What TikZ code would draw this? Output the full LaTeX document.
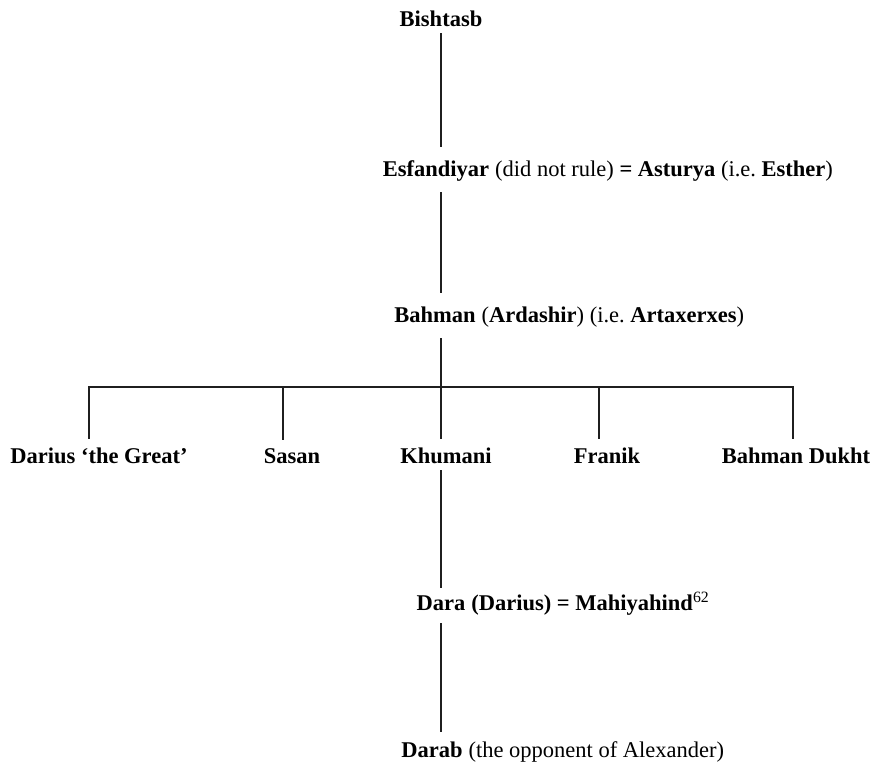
\documentclass[tikz,border=0pt]{standalone}
\usepackage{fontspec}
\setmainfont{Liberation Serif}
\usetikzlibrary{positioning}
\frenchspacing

\begin{document}
\begin{tikzpicture}[x=1pt, y=-1pt,
    every node/.style={font=\fontsize{22.5}{27}\selectfont},
    person/.style={anchor=base, inner sep=0pt, font=\fontsize{22.5}{27}\selectfont\bfseries},
    rest/.style={anchor=base west, inner sep=0pt},
    line/.style={line width=2.7pt, black!88}]

    \useasboundingbox (0,0) rectangle (879,762);
    \coordinate (trunk) at (441,0);

    % Main line of descent
    \node[person] (bish) at (441,27) {Bishtasb};
    \node[person] (esf) at (436,177) {Esfandiyar};
    \node[rest] (esf-r) at (esf.base east) {\ (did not rule) \textbf{= Asturya} (i.e. \textbf{Esther})};
    \node[person] (bah) at (435,323) {Bahman};
    \node[rest] (bah-r) at (bah.base east) {\ (\textbf{Ardashir}) (i.e. \textbf{Artaxerxes})};

    % Children of Bahman
    \node[person] (darius) at (99,463) {Darius `the Great'};
    \node[person] (sasan) at (292,463) {Sasan};
    \node[person] (khum) at (446,463) {Khumani};
    \node[person] (franik) at (607,463) {Franik};
    \node[person] (bdukht) at (796,463) {Bahman Dukht};

    % Later generations
    \node[person] (dara) at (441,610) {Dara};
    \node[rest] (dara-r) at (dara.base east) {\ \textbf{(Darius) = Mahiyahind}\textsuperscript{62}};
    \node[person] (darab) at (432,757) {Darab};
    \node[rest] (darab-r) at (darab.base east) {\ (the opponent of Alexander)};

    % Connections
    \draw[line, shorten <=6pt, shorten >=14pt] (bish.south -| trunk) -- (esf.north -| trunk);
    \draw[line, shorten <=10pt, shorten >=14pt] (esf.south -| trunk) -- (bah.north -| trunk);
    \foreach \c/\x in {darius/89, sasan/283, khum/441, franik/599, bdukht/793} {
        \coordinate (top-\c) at (\x,387);
        \draw[line, shorten >=8pt] (top-\c) -- (\c.north -| top-\c);
    }
    \draw[line, line cap=rect] (top-darius) -- (top-bdukht);
    \draw[line, shorten <=15pt] (bah.south -| trunk) -- (top-khum);
    \draw[line, shorten <=7pt, shorten >=7pt] (khum.south -| trunk) -- (dara.north -| trunk);
    \draw[line, shorten <=13pt, shorten >=9pt] (dara.south -| trunk) -- (darab.north -| trunk);

\end{tikzpicture}
\end{document}
